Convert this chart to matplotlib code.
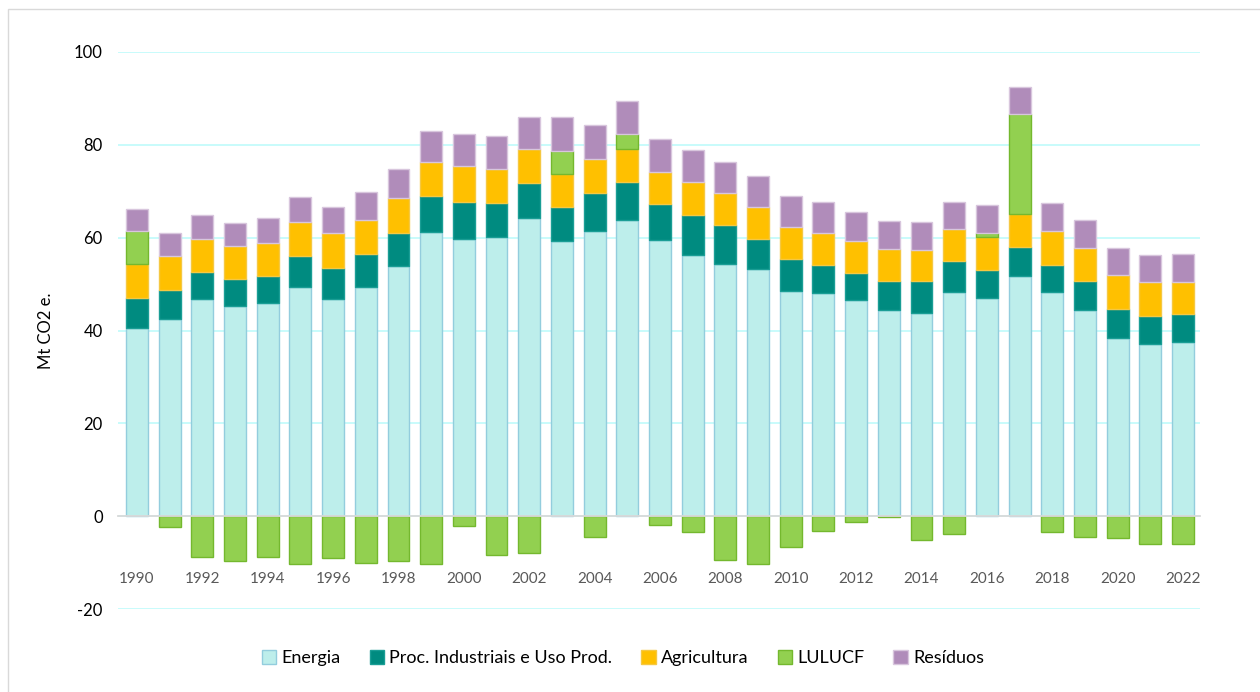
import numpy as np
import matplotlib
matplotlib.use("Agg")
from matplotlib import pyplot as plt
from matplotlib.patches import Rectangle

plt.rcParams['font.family'] = ['Lato', 'DejaVu Sans']
plt.rcParams['axes.unicode_minus'] = False

anos = list(range(1990, 2023))

energia = [40.6, 42.5, 46.7, 45.3, 45.9, 49.4, 46.8, 49.3, 53.8, 61.2,
           59.8, 60.1, 64.2, 59.2, 61.4, 63.8, 59.5, 56.3, 54.4, 53.2,
           48.6, 48.1, 46.6, 44.4, 43.8, 48.2, 47.0, 51.7, 48.3, 44.4,
           38.4, 37.1, 37.5]
proc_ind = [6.4, 6.3, 5.8, 5.7, 5.8, 6.7, 6.6, 7.1, 7.3, 7.7,
            7.9, 7.3, 7.5, 7.5, 8.2, 8.2, 7.8, 8.6, 8.3, 6.5,
            6.9, 6.1, 5.8, 6.3, 6.8, 6.7, 6.1, 6.3, 5.9, 6.2,
            6.2, 6.1, 6.0]
agricultura = [7.3, 7.2, 7.2, 7.1, 7.1, 7.3, 7.5, 7.5, 7.5, 7.5,
               7.7, 7.4, 7.3, 7.1, 7.3, 7.0, 6.8, 7.1, 6.9, 6.9,
               6.9, 6.9, 6.9, 6.8, 6.8, 6.9, 7.0, 7.2, 7.2, 7.2,
               7.3, 7.2, 7.0]
lulucf = [7.1, -2.4, -8.9, -9.7, -8.9, -10.3, -9.1, -10.1, -9.7, -10.3,
          -2.1, -8.4, -7.9, 4.9, -4.5, 3.4, -1.9, -3.4, -9.5, -10.4,
          -6.6, -3.1, -1.2, -0.2, -5.2, -3.8, 0.9, 21.4, -3.5, -4.5,
          -4.7, -6.0, -5.9]
residuos = [4.8, 5.0, 5.1, 5.1, 5.4, 5.4, 5.7, 5.9, 6.2, 6.6,
            6.9, 7.0, 7.1, 7.2, 7.3, 7.1, 7.1, 6.9, 6.8, 6.7,
            6.6, 6.5, 6.2, 6.1, 6.0, 5.9, 6.0, 5.9, 6.0, 6.0,
            5.8, 5.9, 6.0]

series = [
    ("Energia", energia, "#bdeeeb", "#93cddd"),
    ("Proc. Industriais e Uso Prod.", proc_ind, "#008b80", "#1a9e95"),
    ("Agricultura", agricultura, "#ffc000", "#f5c842"),
    ("LULUCF", lulucf, "#92d050", "#74b82e"),
    ("Resíduos", residuos, "#b08cba", "#d8c6dd"),
]

fig = plt.figure(figsize=(12.6, 6.92), dpi=100)
ax = fig.add_axes([118 / 1260, 1 - 609 / 692, (1200 - 118) / 1260, (609 - 52) / 692])

x = np.array(anos)
pos_base = np.zeros(len(anos))
neg_base = np.zeros(len(anos))
for nome, vals, cor, borda in series:
    v = np.array(vals)
    base = np.where(v >= 0, pos_base, neg_base)
    ax.bar(x, v, 0.67, bottom=base, color=cor, edgecolor=borda, linewidth=1,
           label=nome, zorder=3)
    pos_base = pos_base + np.clip(v, 0, None)
    neg_base = neg_base + np.clip(v, None, 0)

ax.set_xlim(1989.42, 2022.52)
ax.set_ylim(-20, 100)
ax.set_yticks(range(-20, 101, 20))
ax.grid(axis='y', color="#c4fbfb", linewidth=1.3, zorder=0)
ax.set_axisbelow(True)

for s in ['top', 'right', 'left']:
    ax.spines[s].set_visible(False)
ax.spines['bottom'].set_position(('data', 0))
ax.spines['bottom'].set_color("#d9d9d9")
ax.spines['bottom'].set_linewidth(1.3)
ax.spines['bottom'].set_zorder(4)

ax.set_xticks(anos[::2])
ax.tick_params(axis='x', length=0, pad=40, labelsize=11, labelcolor="#595959")
ax.tick_params(axis='y', length=0, pad=11, labelsize=12, labelcolor="#000000")
ax.set_ylabel("Mt CO2 e.", fontsize=12, labelpad=14)

fig.legend(loc='center', bbox_to_anchor=(623 / 1260, 1 - 658 / 692), ncol=5,
           frameon=False, fontsize=13, handlelength=0.8, handleheight=0.8,
           handletextpad=0.3, columnspacing=1.6)

fig.patches.append(Rectangle((8 / 1260, -0.05), 1.1, 1 - 9 / 692 + 0.05,
                             transform=fig.transFigure, fill=False,
                             edgecolor="#d9d9d9", linewidth=1))

fig.savefig("out.png", dpi=100)
